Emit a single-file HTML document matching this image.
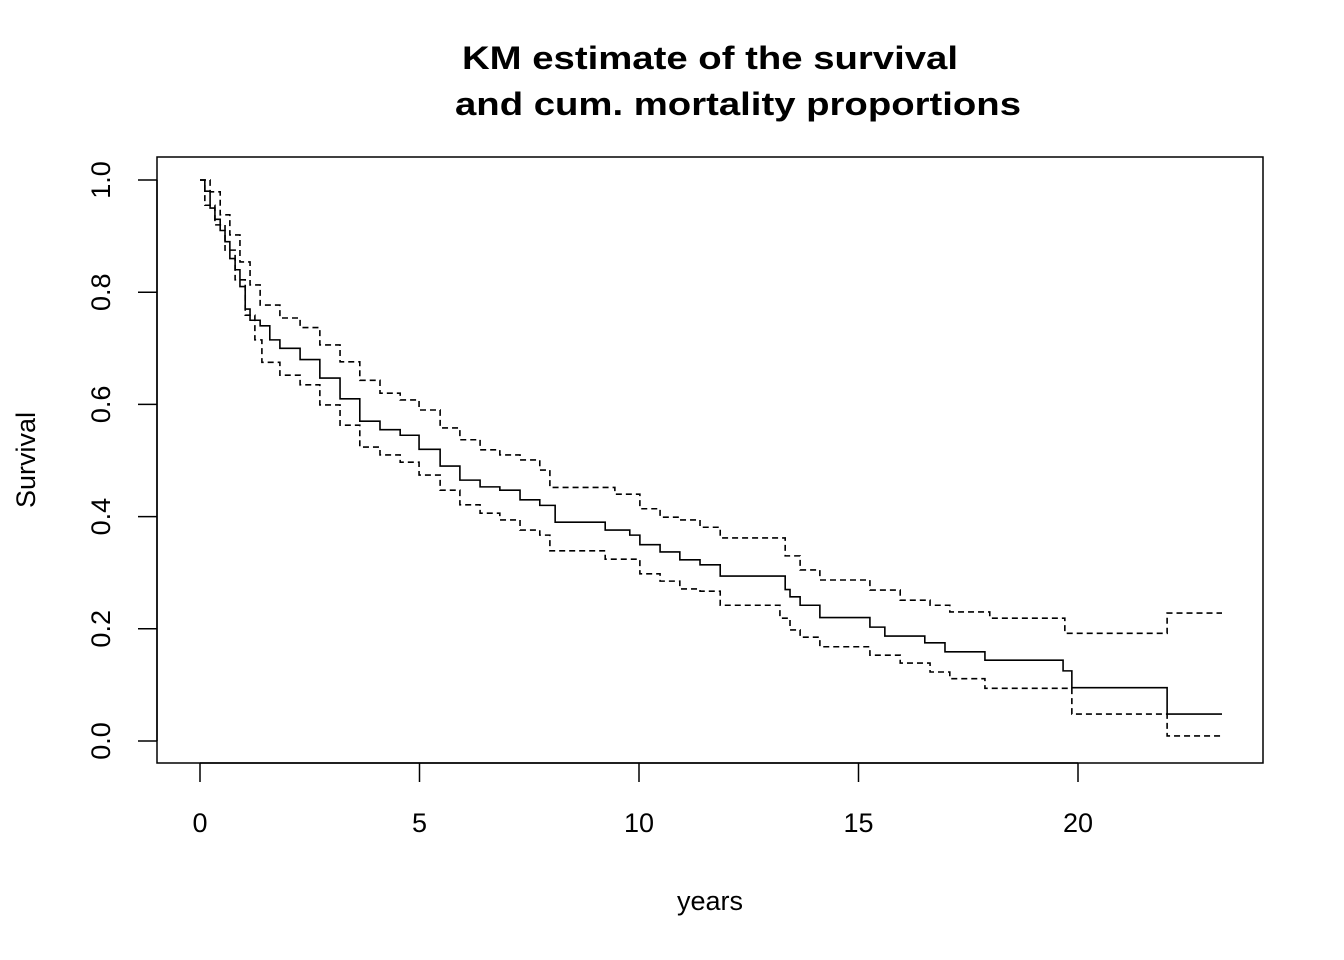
<!DOCTYPE html>
<html><head><meta charset="utf-8"><style>
html,body{margin:0;padding:0;background:#fff;}
svg{display:block;font-family:"Liberation Sans",Arial,sans-serif;}
</style></head><body>
<svg id="chart" width="1344" height="960" viewBox="0 0 1344 960" xmlns="http://www.w3.org/2000/svg">
<rect width="1344" height="960" fill="#fff"/>
<text x="710" y="69" text-anchor="middle" font-size="32" font-weight="bold" textLength="496" lengthAdjust="spacingAndGlyphs">KM estimate of the survival</text>
<text x="738" y="115" text-anchor="middle" font-size="32" font-weight="bold" textLength="566" lengthAdjust="spacingAndGlyphs">and cum. mortality proportions</text>
<rect x="157" y="157" width="1106" height="606" fill="none" stroke="#000" stroke-width="1.5"/>
<g id="axes"></g>
<g id="series"></g>
<text x="710" y="910" text-anchor="middle" font-size="27">years</text>
<text transform="translate(35,460) rotate(-90)" text-anchor="middle" font-size="27">Survival</text>
</svg>
<script>
const xTicks=[0,5,10,15,20];
const yTicks=[0.0,0.2,0.4,0.6,0.8,1.0];
const yTickLabels=["0.0","0.2","0.4","0.6","0.8","1.0"];
const endTime=23.28;
const survTimes=[0,0.11,0.23,0.34,0.46,0.57,0.68,0.80,0.91,1.03,1.14,1.37,1.59,1.82,2.28,2.73,3.19,3.64,4.10,4.56,4.99,5.47,5.92,6.38,6.83,7.29,7.74,8.09,9.23,9.79,10.02,10.48,10.93,11.39,11.85,13.33,13.44,13.67,14.12,15.26,15.60,16.51,16.97,17.88,19.66,19.86,22.03];
const survValues=[1.0,0.98,0.95,0.93,0.91,0.89,0.86,0.84,0.81,0.77,0.75,0.74,0.715,0.70,0.68,0.647,0.61,0.57,0.555,0.545,0.52,0.49,0.465,0.453,0.447,0.43,0.42,0.39,0.376,0.367,0.35,0.337,0.323,0.314,0.294,0.27,0.257,0.242,0.22,0.203,0.187,0.175,0.159,0.144,0.125,0.095,0.048];
const upperTimes=[0,0.23,0.46,0.68,0.91,1.14,1.37,1.82,2.28,2.73,3.19,3.64,4.10,4.56,4.99,5.47,5.92,6.38,6.83,7.29,7.74,7.97,9.45,10.02,10.48,10.93,11.39,11.85,13.33,13.67,14.12,15.26,15.95,16.63,17.08,17.99,19.70,22.03];
const upperValues=[1.0,0.979,0.938,0.902,0.854,0.813,0.777,0.754,0.737,0.706,0.676,0.643,0.620,0.608,0.590,0.558,0.537,0.519,0.510,0.501,0.483,0.452,0.440,0.414,0.399,0.394,0.381,0.362,0.330,0.305,0.287,0.269,0.251,0.242,0.230,0.219,0.192,0.228];
const lowerTimes=[0,0.11,0.34,0.57,0.80,1.03,1.25,1.41,1.82,2.28,2.73,3.19,3.64,4.10,4.56,4.99,5.47,5.92,6.38,6.83,7.29,7.74,7.97,9.23,10.02,10.48,10.93,11.39,11.85,13.21,13.44,13.67,14.12,15.26,15.95,16.63,17.08,17.88,19.86,22.03];
const lowerValues=[1.0,0.955,0.920,0.875,0.822,0.759,0.715,0.675,0.652,0.635,0.599,0.563,0.524,0.510,0.497,0.474,0.447,0.421,0.406,0.394,0.376,0.367,0.339,0.324,0.298,0.285,0.271,0.267,0.242,0.219,0.198,0.185,0.168,0.153,0.139,0.123,0.111,0.094,0.048,0.009];

const NS="http://www.w3.org/2000/svg";
const xS=t=>200+t*(1078-200)/20;
const yS=v=>741-v*(741-180);
const axes=document.getElementById('axes');
const series=document.getElementById('series');
function mk(tag,attrs,parent){const e=document.createElementNS(NS,tag);for(const k in attrs)e.setAttribute(k,attrs[k]);parent.appendChild(e);return e;}

const xa=mk('line',{x1:xS(xTicks[0]),x2:xS(xTicks[xTicks.length-1]),y1:763,y2:763,stroke:'#000','stroke-width':1.5},axes);


xTicks.forEach(t=>{
  const l=mk('line',{x1:xS(t),x2:xS(t),y1:763,y2:782,stroke:'#000','stroke-width':1.5},axes);
  
  
  const tx=mk('text',{x:xS(t),y:832,'text-anchor':'middle','font-size':27},axes);
  tx.textContent=String(t);
  
  
});
const ya=mk('line',{x1:157,x2:157,y1:yS(yTicks[0]),y2:yS(yTicks[yTicks.length-1]),stroke:'#000','stroke-width':1.5},axes);


yTicks.forEach((v,i)=>{
  const l=mk('line',{x1:138,x2:157,y1:yS(v),y2:yS(v),stroke:'#000','stroke-width':1.5},axes);
  
  
  const tx=mk('text',{transform:`translate(110,${yS(v)}) rotate(-90)`,'text-anchor':'middle','font-size':27},axes);
  tx.textContent=yTickLabels[i];
  
  
});

function stepPath(ts,vs){
  let d=`M${xS(ts[0])},${yS(vs[0])}`;
  for(let i=1;i<ts.length;i++){d+=` H${xS(ts[i])} V${yS(vs[i])}`;}
  d+=` H${xS(endTime)}`;
  return d;
}
const pu=mk('path',{d:stepPath(upperTimes,upperValues),fill:'none',stroke:'#000','stroke-width':1.6,'stroke-dasharray':'6 4'},series);


const pl=mk('path',{d:stepPath(lowerTimes,lowerValues),fill:'none',stroke:'#000','stroke-width':1.6,'stroke-dasharray':'6 4'},series);


const ps=mk('path',{d:stepPath(survTimes,survValues),fill:'none',stroke:'#000','stroke-width':1.6},series);


</script>
</body></html>
